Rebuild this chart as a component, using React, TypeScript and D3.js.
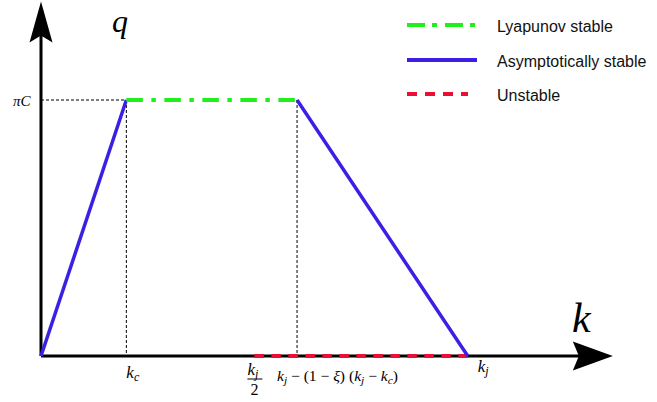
import React from "react";
import * as d3 from "d3";

// ---- data (domain units) ----
const kPoints = [0, 15, 37.5, 45, 75]; // 0, k_c, k_j/2, k_j-(1-ξ)(k_j-k_c), k_j
const qLevels = [0, 1]; // 0, πC
const asymptoticSegments: [number, number][][] = [
  [[0, 0], [15, 1]],
  [[45, 1], [75, 0]],
];
const lyapunovSegment: [number, number][] = [[15, 1], [45, 1]];
const unstableSegment: [number, number][] = [[37.5, 0], [75, 0]];
const guideVerticals = [15, 45];
const legendLabels = ["Lyapunov stable", "Asymptotically stable", "Unstable"];
const axisMax = { k: 100.5, q: 1.385 };

const W = 657;
const H = 402;

const GREEN = "#1ff01a";
const BLUE = "#3b1fe6";
const RED = "#ea0f33";

export default function App() {
  const x = d3.scaleLinear().domain([0, 100]).range([41, 610]);
  const y = d3.scaleLinear().domain([0, 1]).range([356, 100]);
  const line = d3
    .line<[number, number]>()
    .x((d) => x(d[0]))
    .y((d) => y(d[1]));

  const x0 = x(0);
  const y0 = y(0);
  const xTip = x(axisMax.k);
  const yTip = y(axisMax.q);

  const yArrow = `M${x0},${yTip} L${x0 + 11.5},${yTip + 41} Q${x0},${yTip + 34} ${x0},${yTip + 34} Q${x0},${yTip + 34} ${x0 - 11.5},${yTip + 41} Z`;
  const xArrow = `M${xTip},${y0} L${xTip - 40},${y0 - 14.5} L${xTip - 34},${y0} L${xTip - 40},${y0 + 14.5} Z`;

  const serif = "'Liberation Serif', 'DejaVu Serif', serif";
  const sans = "'Liberation Sans', Arial, sans-serif";

  const legendY = [25, 60, 94];
  const legendStyles = [
    { color: GREEN, dash: "18,7,5,8", x2: 477 },
    { color: BLUE, dash: undefined, x2: 477 },
    { color: RED, dash: "10,8", x2: 468 },
  ];

  return (
    <svg
      width={W}
      height={H}
      style={{ position: "absolute", left: 0, top: 0, background: "#fff" }}
    >
      {/* guides */}
      <path
        d={line([[0, qLevels[1]], [kPoints[1], qLevels[1]]])!}
        stroke="#000"
        strokeWidth={1}
        strokeDasharray="3,2"
        fill="none"
      />
      {guideVerticals.map((k, i) => (
        <path
          key={i}
          d={line([[k, qLevels[1]], [k, qLevels[0]]])!}
          stroke="#000"
          strokeWidth={1}
          strokeDasharray="3,2"
          fill="none"
        />
      ))}

      {/* axes */}
      <line x1={x0} y1={y0} x2={x0} y2={yTip + 30} stroke="#000" strokeWidth={3} />
      <line x1={x0} y1={y0} x2={xTip - 30} y2={y0} stroke="#000" strokeWidth={3} />
      <path d={yArrow} fill="#000" />
      <path d={xArrow} fill="#000" />

      {/* unstable */}
      <path
        d={line(unstableSegment)!}
        stroke={RED}
        strokeWidth={4}
        strokeDasharray="9.5,7.5"
        fill="none"
      />
      {/* asymptotic */}
      {asymptoticSegments.map((s, i) => (
        <path key={i} d={line(s)!} stroke={BLUE} strokeWidth={3.5} fill="none" />
      ))}
      {/* lyapunov */}
      <path
        d={line(lyapunovSegment)!}
        stroke={GREEN}
        strokeWidth={4}
        strokeDasharray="16.5,8.5,4.5,8.5"
        fill="none"
      />

      {/* axis titles */}
      <text x={112} y={32} fontFamily={serif} fontStyle="italic" fontSize={32}>
        q
      </text>
      <text x={572} y={332} fontFamily={serif} fontStyle="italic" fontSize={42}>
        k
      </text>

      {/* πC */}
      <text x={13} y={106} fontFamily={serif} fontStyle="italic" fontSize={15}>
        πC
      </text>

      {/* k_c */}
      <text x={x(kPoints[1])} y={378} fontFamily={serif} fontSize={17} fontStyle="italic">
        k
        <tspan fontSize={12} dy={3}>c</tspan>
      </text>

      {/* k_j / 2 */}
      <text x={x(kPoints[2]) - 7} y={375} fontFamily={serif} fontSize={17} fontStyle="italic">
        k
        <tspan fontSize={12} dy={3}>j</tspan>
      </text>
      <line x1={x(kPoints[2]) - 7} x2={x(kPoints[2]) + 8} y1={379} y2={379} stroke="#000" strokeWidth={1} />
      <text x={x(kPoints[2])} y={395} fontFamily={serif} fontSize={16} textAnchor="middle">
        2
      </text>

      {/* long label */}
      <text
        x={277}
        y={381}
        fontFamily={serif}
        fontSize={15}
        textLength={121}
        lengthAdjust="spacingAndGlyphs"
      >
        <tspan fontStyle="italic">k</tspan>
        <tspan fontStyle="italic" fontSize={11} dy={3}>j</tspan>
        <tspan dy={-3}> − (1 − </tspan>
        <tspan fontStyle="italic">ξ</tspan>
        <tspan>) (</tspan>
        <tspan fontStyle="italic">k</tspan>
        <tspan fontStyle="italic" fontSize={11} dy={3}>j</tspan>
        <tspan dy={-3}> − </tspan>
        <tspan fontStyle="italic">k</tspan>
        <tspan fontStyle="italic" fontSize={11} dy={3}>c</tspan>
        <tspan dy={-3}>)</tspan>
      </text>

      {/* k_j */}
      <text x={x(kPoints[4]) + 10} y={372} fontFamily={serif} fontSize={17} fontStyle="italic">
        k
        <tspan fontSize={12} dy={3}>j</tspan>
      </text>

      {/* legend */}
      {legendLabels.map((lab, i) => (
        <g key={lab}>
          <line
            x1={407}
            x2={legendStyles[i].x2}
            y1={legendY[i]}
            y2={legendY[i]}
            stroke={legendStyles[i].color}
            strokeWidth={4}
            strokeDasharray={legendStyles[i].dash}
          />
          <text x={497} y={legendY[i] + 6.5} fontFamily={sans} fontSize={16} fill="#111">
            {lab}
          </text>
        </g>
      ))}
    </svg>
  );
}
